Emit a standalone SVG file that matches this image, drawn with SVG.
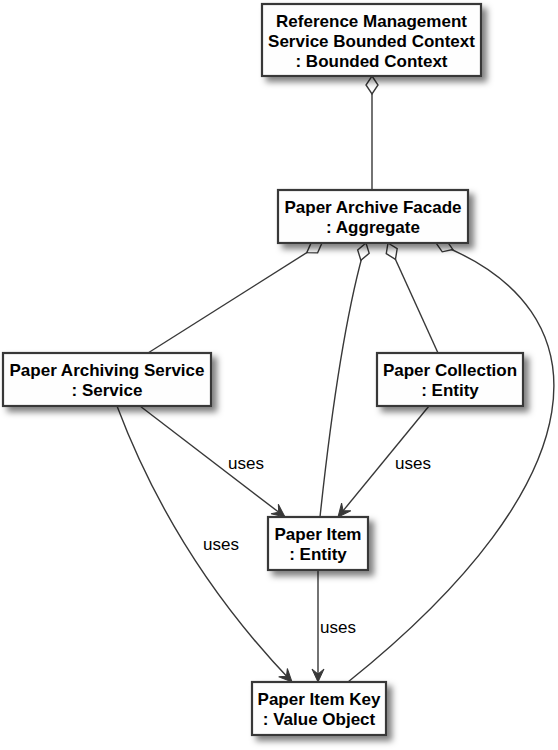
<svg xmlns="http://www.w3.org/2000/svg" width="558" height="750" viewBox="0 0 558 750">
<style>
.box{fill:#FEFEFE;stroke:#383838;stroke-width:2.2;filter:url(#sh)}
.t{font-family:"Liberation Sans",Arial,sans-serif;font-size:17px;font-weight:bold;fill:#000;text-anchor:middle}
.lbl{font-family:"Liberation Sans",Arial,sans-serif;font-size:17px;fill:#000}
.c{fill:none;stroke:#383838;stroke-width:1.4}
.agg{marker-start:url(#dia)}
.use{marker-end:url(#arr)}
</style>
<defs>
<filter id="sh" x="-20%" y="-20%" width="150%" height="170%">
<feDropShadow dx="5" dy="5" stdDeviation="3" flood-color="#000" flood-opacity="0.5"/>
</filter>
<marker id="dia" markerUnits="userSpaceOnUse" viewBox="-1 -7 21 14" markerWidth="21" markerHeight="14" refX="0" refY="0" orient="auto" overflow="visible">
<path d="M0,0 L9,-6 L18,0 L9,6 Z" fill="#FFFFFF" stroke="#383838" stroke-width="1.4"/>
</marker>
<marker id="arr" markerUnits="userSpaceOnUse" viewBox="-14 -7 15 14" markerWidth="15" markerHeight="14" refX="0" refY="0" orient="auto" overflow="visible">
<path d="M0,0 L-13,-6 L-8,0 L-13,6 Z" fill="#383838" stroke="#383838" stroke-width="1"/>
</marker>
</defs>
<g id="connectors">
<path class="c agg" d="M372,76 L372,190"/>
<path class="c agg" d="M322,243 L148,353"/>
<path class="c agg" d="M366,243 Q340,330 320,517"/>
<path class="c agg" d="M388,243 L438,353"/>
<path class="c agg" d="M436,243 C610,310 600,480 348,682"/>
<path class="c use" d="M140,406 L285,517"/>
<path class="c use" d="M429,406 L338,517"/>
<path class="c use" d="M117,406 Q175,560 292,682"/>
<path class="c use" d="M318,570 L318,682"/>
<text class="lbl" x="228" y="469">uses</text>
<text class="lbl" x="395" y="469">uses</text>
<text class="lbl" x="203" y="550">uses</text>
<text class="lbl" x="320" y="633">uses</text>
</g>
<g id="refctx">
<rect class="box" x="262" y="4" width="219" height="72"/>
<text class="t" x="371.5" y="27">Reference Management</text>
<text class="t" x="371.5" y="47">Service Bounded Context</text>
<text class="t" x="371.5" y="67">: Bounded Context</text>
</g>
<g id="facade">
<rect class="box" x="278" y="190" width="190" height="53"/>
<text class="t" x="373" y="213">Paper Archive Facade</text>
<text class="t" x="373" y="233">: Aggregate</text>
</g>
<g id="archiving">
<rect class="box" x="3" y="353" width="208" height="53"/>
<text class="t" x="107" y="376">Paper Archiving Service</text>
<text class="t" x="107" y="396">: Service</text>
</g>
<g id="collection">
<rect class="box" x="377" y="353" width="146" height="53"/>
<text class="t" x="450" y="376">Paper Collection</text>
<text class="t" x="450" y="396">: Entity</text>
</g>
<g id="item">
<rect class="box" x="268" y="517" width="100" height="53"/>
<text class="t" x="318" y="540">Paper Item</text>
<text class="t" x="318" y="560">: Entity</text>
</g>
<g id="itemkey">
<rect class="box" x="252" y="682" width="134" height="53"/>
<text class="t" x="319" y="705">Paper Item Key</text>
<text class="t" x="319" y="725">: Value Object</text>
</g>
</svg>
